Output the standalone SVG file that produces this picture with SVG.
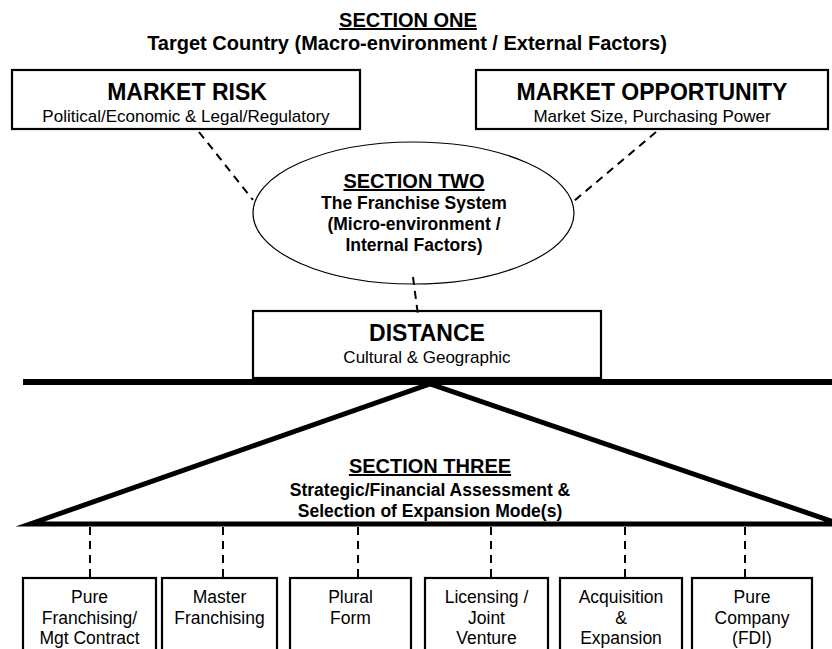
<svg xmlns="http://www.w3.org/2000/svg" width="832" height="649" viewBox="0 0 832 649">
<style>
text{font-family:"Liberation Sans",Arial,sans-serif;fill:#000;text-anchor:middle}
.sec{font-weight:bold;font-size:20px;text-decoration:underline}
.hb{font-weight:bold;font-size:20px}
.big{font-weight:bold;font-size:23px}
.sub{font-size:17px}
.body{font-weight:bold;font-size:17.5px}
.box{fill:#fff;stroke:#000;stroke-width:2.2}
.mode{font-size:17.5px}
.dash{stroke:#000;stroke-width:2;stroke-dasharray:8 6;fill:none}
</style>
<rect width="832" height="649" fill="#fff"/>
<g id="section-one">
<text class="sec" x="408" y="27">SECTION ONE</text>
<text class="hb" x="407" y="50">Target Country (Macro-environment / External Factors)</text>
</g>
<g id="market-risk">
<rect class="box" x="12" y="70" width="348" height="59"/>
<text class="big" x="187" y="100">MARKET RISK</text>
<text class="sub" x="186" y="122">Political/Economic &amp; Legal/Regulatory</text>
</g>
<g id="market-opportunity">
<rect class="box" x="476" y="70" width="352" height="59"/>
<text class="big" x="652" y="100">MARKET OPPORTUNITY</text>
<text class="sub" x="652" y="122">Market Size, Purchasing Power</text>
</g>
<g id="section-two">
<ellipse cx="413.5" cy="213" rx="160.5" ry="71" fill="#fff" stroke="#000" stroke-width="1.2"/>
<text class="sec" x="414" y="188">SECTION TWO</text>
<text class="body" x="414" y="209">The Franchise System</text>
<text class="body" x="414" y="230">(Micro-environment /</text>
<text class="body" x="414" y="251">Internal Factors)</text>
</g>
<g id="distance">
<rect class="box" x="253" y="311" width="348" height="67"/>
<text class="big" x="427" y="341">DISTANCE</text>
<text class="sub" x="427" y="363">Cultural &amp; Geographic</text>
</g>
<g id="fulcrum-bar">
<rect x="23" y="379" width="815" height="6" fill="#000"/>
</g>
<g id="section-three">
<polygon points="30,524 430,384 840,524" fill="none" stroke="#000" stroke-width="5" stroke-linejoin="miter" stroke-miterlimit="10"/>
<text class="sec" x="430" y="473">SECTION THREE</text>
<text class="body" x="430" y="496">Strategic/Financial Assessment &amp;</text>
<text class="body" x="430" y="517">Selection of Expansion Mode(s)</text>
</g>
<g id="mode-pure-franchising">
<rect class="box" x="23" y="578" width="133" height="90"/>
<text class="mode" x="89.5" y="603">Pure</text>
<text class="mode" x="89.5" y="624">Franchising/</text>
<text class="mode" x="89.5" y="644">Mgt Contract</text>
</g>
<g id="mode-master-franchising">
<rect class="box" x="162" y="578" width="115" height="90"/>
<text class="mode" x="219.5" y="603">Master</text>
<text class="mode" x="219.5" y="624">Franchising</text>
</g>
<g id="mode-plural-form">
<rect class="box" x="290" y="578" width="121" height="90"/>
<text class="mode" x="350.5" y="603">Plural</text>
<text class="mode" x="350.5" y="624">Form</text>
</g>
<g id="mode-licensing">
<rect class="box" x="425" y="578" width="123" height="90"/>
<text class="mode" x="486.5" y="603">Licensing /</text>
<text class="mode" x="486.5" y="624">Joint</text>
<text class="mode" x="486.5" y="644">Venture</text>
</g>
<g id="mode-acquisition">
<rect class="box" x="560" y="578" width="122" height="90"/>
<text class="mode" x="621" y="603">Acquisition</text>
<text class="mode" x="621" y="624">&amp;</text>
<text class="mode" x="621" y="644">Expansion</text>
</g>
<g id="mode-pure-company">
<rect class="box" x="692" y="578" width="120" height="90"/>
<text class="mode" x="752" y="603">Pure</text>
<text class="mode" x="752" y="624">Company</text>
<text class="mode" x="752" y="644">(FDI)</text>
</g>
<g id="connectors">
<line class="dash" x1="199" y1="132" x2="253" y2="200"/>
<line class="dash" x1="656" y1="132" x2="574" y2="201"/>
<line class="dash" x1="413" y1="277" x2="418" y2="315"/>
<line class="dash" x1="90" y1="527" x2="90" y2="578"/>
<line class="dash" x1="223" y1="527" x2="223" y2="578"/>
<line class="dash" x1="358" y1="527" x2="358" y2="578"/>
<line class="dash" x1="491" y1="527" x2="491" y2="578"/>
<line class="dash" x1="625" y1="527" x2="625" y2="578"/>
<line class="dash" x1="745" y1="527" x2="745" y2="578"/>
</g>
</svg>
